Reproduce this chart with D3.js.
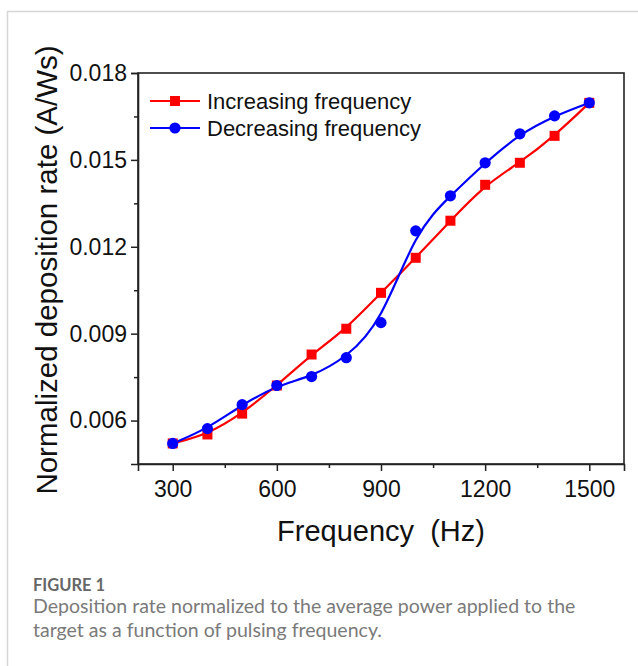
<!DOCTYPE html>
<html>
<head>
<meta charset="utf-8">
<script src="https://cdn.jsdelivr.net/npm/d3@7/dist/d3.min.js"></script>
<style>
  html, body { margin: 0; padding: 0; background: #fff; }
  svg { display: block; }
</style>
</head>
<body>
<svg id="chart" width="638" height="666"></svg>
<script>
// Pulsing frequency (Hz)
const frequencies = [300, 400, 500, 600, 700, 800, 900, 1000, 1100, 1200, 1300, 1400, 1500];
// Normalized deposition rate (A/Ws), sweeping frequency upward
const increasing = [0.00521, 0.00552, 0.00624, 0.00721, 0.00828, 0.00917, 0.01041, 0.01162, 0.0129, 0.01414, 0.0149, 0.01583, 0.01697];
// Normalized deposition rate (A/Ws), sweeping frequency downward
const decreasing = [0.00521, 0.00572, 0.00655, 0.00721, 0.00752, 0.00817, 0.00938, 0.01255, 0.01376, 0.0149, 0.0159, 0.01652, 0.01697];

const xTicks = [300, 600, 900, 1200, 1500];
const xMinorTicks = [450, 750, 1050, 1350];
const yTicks = [0.006, 0.009, 0.012, 0.015, 0.018];
const yMinorTicks = [0.0075, 0.0105, 0.0135, 0.0165];

const seriesNames = ["Increasing frequency", "Decreasing frequency"];
const seriesColors = ["#ff0000", "#0000ff"];

const captionTitle = "FIGURE 1";
const captionLines = [
  "Deposition rate normalized to the average power applied to the",
  "target as a function of pulsing frequency."
];

const svg = d3.select("#chart");
const W = 638, H = 666;

// card outline
svg.append("path")
  .attr("d", `M7.5,${H} V11.5 H${W}`)
  .attr("fill", "none")
  .attr("stroke", "#d6d6d6")
  .attr("stroke-width", 1.5);

const plot = { left: 138, right: 624, top: 73, bottom: 464 };
const font = "'Liberation Sans', Arial, sans-serif";

const x = d3.scaleLinear().domain([200, 1600]).range([plot.left, plot.right]);
const y = d3.scaleLinear().domain([0.0045, 0.018]).range([plot.bottom, plot.top]);

const axisColor = "#222";

// frame
svg.append("rect")
  .attr("x", plot.left).attr("y", plot.top)
  .attr("width", plot.right - plot.left).attr("height", plot.bottom - plot.top)
  .attr("fill", "none").attr("stroke", axisColor).attr("stroke-width", 1.6);

// x axis
const xAxis = svg.append("g")
  .attr("transform", `translate(0,${plot.bottom})`)
  .call(d3.axisBottom(x).tickValues(xTicks).tickSize(7).tickPadding(10).tickFormat(d3.format("d")));
svg.append("g")
  .attr("transform", `translate(0,${plot.bottom})`)
  .call(d3.axisBottom(x).tickValues(xMinorTicks).tickSize(4).tickFormat(""))
  .call(g => g.select(".domain").remove());

// y axis
const yAxis = svg.append("g")
  .attr("transform", `translate(${plot.left},0)`)
  .call(d3.axisLeft(y).tickValues(yTicks).tickSize(7).tickPadding(4).tickFormat(d3.format(".3f")));
svg.append("g")
  .attr("transform", `translate(${plot.left},0)`)
  .call(d3.axisLeft(y).tickValues(yMinorTicks).tickSize(4).tickFormat(""))
  .call(g => g.select(".domain").remove());

svg.selectAll(".tick line").attr("stroke", axisColor).attr("stroke-width", 1.5);
svg.selectAll(".domain").attr("stroke", axisColor).attr("stroke-width", 1.6);
svg.selectAll(".tick text")
  .attr("font-family", font)
  .attr("font-size", 23)
  .attr("fill", "#111");

// axis titles
svg.append("text")
  .attr("x", (plot.left + plot.right) / 2 + 0).attr("y", 541)
  .attr("text-anchor", "middle")
  .attr("font-family", font).attr("font-size", 29).attr("fill", "#111")
  .attr("xml:space", "preserve")
  .text("Frequency  (Hz)");

svg.append("text")
  .attr("transform", "translate(57,270) rotate(-90)")
  .attr("text-anchor", "middle")
  .attr("font-family", font).attr("font-size", 29.5).attr("fill", "#111")
  .text("Normalized deposition rate (A/Ws)");

// series
const series = [increasing, decreasing].map((vals, i) => ({
  name: seriesNames[i],
  color: seriesColors[i],
  points: frequencies.map((f, j) => ({ f, v: vals[j] }))
}));

const line = d3.line()
  .x(d => x(d.f))
  .y(d => y(d.v))
  .curve(d3.curveBasis);

series.forEach((s, i) => {
  svg.append("path")
    .datum(s.points)
    .attr("d", line)
    .attr("fill", "none")
    .attr("stroke", s.color)
    .attr("stroke-width", 2.2);
});

// markers: squares for increasing, circles for decreasing
const sq = 10;
svg.append("g").selectAll("rect")
  .data(series[0].points)
  .join("rect")
  .attr("x", d => x(d.f) - sq / 2)
  .attr("y", d => y(d.v) - sq / 2)
  .attr("width", sq).attr("height", sq)
  .attr("fill", series[0].color);

svg.append("g").selectAll("circle")
  .data(series[1].points)
  .join("circle")
  .attr("cx", d => x(d.f))
  .attr("cy", d => y(d.v))
  .attr("r", 5.6)
  .attr("fill", series[1].color);

// legend
const legend = svg.append("g").attr("transform", "translate(150,101)");
series.forEach((s, i) => {
  const row = legend.append("g").attr("transform", `translate(0,${i * 27})`);
  row.append("line")
    .attr("x1", 0).attr("x2", 50).attr("y1", 0).attr("y2", 0)
    .attr("stroke", s.color).attr("stroke-width", 2.2);
  if (i === 0) {
    row.append("rect").attr("x", 25 - sq / 2).attr("y", -sq / 2)
      .attr("width", sq).attr("height", sq).attr("fill", s.color);
  } else {
    row.append("circle").attr("cx", 25).attr("cy", 0).attr("r", 5.6).attr("fill", s.color);
  }
  row.append("text")
    .attr("x", 57).attr("y", 0).attr("dy", "0.35em")
    .attr("font-family", font).attr("font-size", 22).attr("fill", "#111")
    .text(s.name);
});

// caption
const capFont = "Lato, 'Open Sans', sans-serif";
svg.append("text")
  .attr("x", 33).attr("y", 591)
  .attr("font-family", capFont).attr("font-weight", 700)
  .attr("font-size", 16.5).attr("fill", "#666")
  .text(captionTitle);

const capText = svg.append("g");
captionLines.forEach((t, i) => {
  capText.append("text")
    .attr("x", 33).attr("y", 613 + i * 24)
    .attr("font-family", capFont)
    .attr("font-size", 18).attr("fill", "#7a7a7a")
    .text(t);
});
// size caption text so the first line spans the card's text column
const firstLine = capText.select("text").node();
const wantWidth = 543;
const got = firstLine.getComputedTextLength();
if (got > 0) {
  const fs = 18 * wantWidth / got;
  capText.selectAll("text").attr("font-size", fs.toFixed(2));
}
</script>
</body>
</html>
